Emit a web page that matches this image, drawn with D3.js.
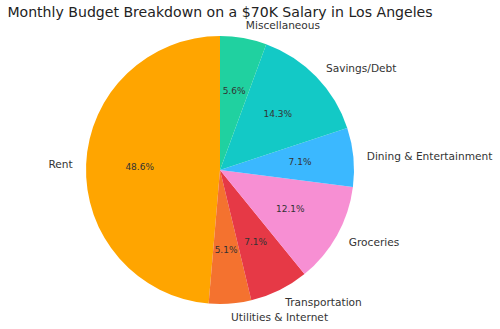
<!DOCTYPE html>
<html>
<head>
<meta charset="utf-8">
<script src="https://cdn.jsdelivr.net/npm/d3@7"></script>
<style>
  html, body { margin: 0; padding: 0; background: #fff; }
  svg { display: block; font-family: "DejaVu Sans", sans-serif; }
</style>
</head>
<body>
<svg id="chart" width="500" height="329"></svg>
<script>
// Monthly budget shares (percent of take-home), drawn counter-clockwise from 12 o'clock
const categories = ["Rent", "Utilities & Internet", "Transportation", "Groceries",
                    "Dining & Entertainment", "Savings/Debt", "Miscellaneous"];
const shares = [48.6, 5.1, 7.1, 12.1, 7.1, 14.3, 5.6];
const colors = ["#FFA500", "#F4722F", "#E63946", "#F78FD3", "#3BB8FF", "#13C9C6", "#20D1A0"];
const title = "Monthly Budget Breakdown on a $70K Salary in Los Angeles";

const svg = d3.select("#chart");
const cx = 220, cy = 170, r = 134;

const data = categories.map((c, i) => ({ name: c, value: shares[i], color: colors[i] }));
const total = d3.sum(shares);

// Negative sweep gives counter-clockwise order starting at the top
const pie = d3.pie().value(d => d.value).sort(null)
  .startAngle(0).endAngle(-2 * Math.PI);
const arcs = pie(data);
const arc = d3.arc().innerRadius(0).outerRadius(r);

const g = svg.append("g").attr("transform", `translate(${cx},${cy})`);

g.selectAll("path.slice").data(arcs).join("path")
  .attr("class", "slice")
  .attr("d", arc)
  .attr("fill", d => d.data.color);

const mid = d => (d.startAngle + d.endAngle) / 2;

// Category labels just outside the rim
g.selectAll("text.label").data(arcs).join("text")
  .attr("class", "label")
  .attr("x", d => 1.1 * r * Math.sin(mid(d)))
  .attr("y", d => -1.1 * r * Math.cos(mid(d)))
  .attr("text-anchor", d => Math.sin(mid(d)) > 0 ? "start" : "end")
  .attr("dominant-baseline", "central")
  .attr("font-size", 10.6)
  .attr("fill", "#333")
  .text(d => d.data.name);

// Percentage labels inside each slice
g.selectAll("text.pct").data(arcs).join("text")
  .attr("class", "pct")
  .attr("x", d => 0.6 * r * Math.sin(mid(d)))
  .attr("y", d => -0.6 * r * Math.cos(mid(d)))
  .attr("text-anchor", "middle")
  .attr("dominant-baseline", "central")
  .attr("font-size", 9)
  .attr("fill", "#333")
  .text(d => (d.data.value / total * 100).toFixed(1) + "%");

svg.append("text")
  .attr("x", cx)
  .attr("y", 17)
  .attr("text-anchor", "middle")
  .attr("font-size", 14.1)
  .attr("fill", "#222")
  .text(title);
</script>
</body>
</html>
